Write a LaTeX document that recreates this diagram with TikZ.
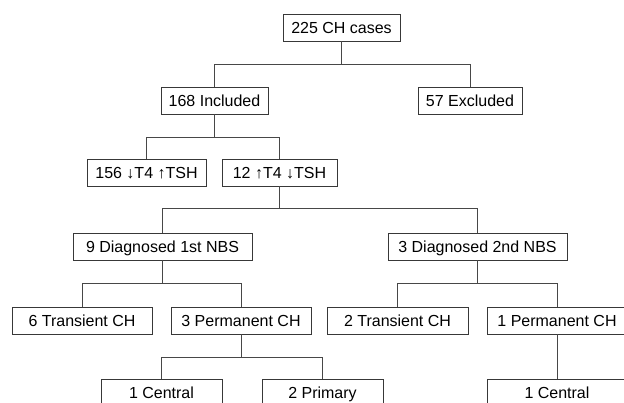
\documentclass[tikz,border=0pt]{standalone}
\usepackage{fontspec}
\setmainfont{Liberation Sans}
\begin{document}
\begin{tikzpicture}[x=1pt,y=-1pt,
  box/.style={draw=black!78,line width=0.9pt,fill=white,inner sep=0pt,minimum height=27pt,text height=11.4pt,text depth=0pt,font=\fontsize{16}{18}\selectfont},
  conn/.style={draw=black!72,line width=0.9pt}]
\useasboundingbox (0,0) rectangle (624,403);
\begin{scope}
\clip (0,0) rectangle (624,403);
% nodes
\node[box,minimum width=117pt] (a) at (341.5,27.5) {225 CH cases};
\node[box,minimum width=107pt] (inc) at (214.5,100.5) {168 Included};
\node[box,minimum width=104pt] (exc) at (470,100.5) {57 Excluded};
\node[box,minimum width=119pt] (low) at (146.5,173) {156 ↓T4 ↑TSH};
\node[box,minimum width=115pt] (high) at (279.5,172.5) {12 ↑T4 ↓TSH};
\node[box,minimum width=179pt] (d1) at (162.5,246.5) {9 Diagnosed 1st NBS};
\node[box,minimum width=179pt] (d2) at (477.5,246.5) {3 Diagnosed 2nd NBS};
\node[box,minimum width=140pt] (t1) at (82,320.5) {6 Transient CH};
\node[box,minimum width=140pt] (p1) at (241,320.5) {3 Permanent CH};
\node[box,minimum width=141pt] (t2) at (397.5,320.5) {2 Transient CH};
\node[box,minimum width=140pt] (p2) at (557,320.5) {1 Permanent CH};
\node[box,minimum width=121pt] (c1) at (161.5,392.5) {1 Central};
\node[box,minimum width=121pt] (pr) at (322.5,392.5) {2 Primary};
\node[box,minimum width=140pt] (c2) at (557,392.5) {1 Central};
% connectors
\draw[conn] (a.south) -- ++(0,23) coordinate (b1);
\draw[conn] (inc.north) |- (b1) -| (exc.north);
\draw[conn] (inc.south) -- ++(0,23) coordinate (b2);
\draw[conn] (low.north) |- (b2) -| (high.north);
\draw[conn] (high.south) -- ++(0,22.5) coordinate (b3);
\draw[conn] (d1.north) |- (b3) -| (d2.north);
\draw[conn] (d1.south) -- ++(0,23) coordinate (b4);
\draw[conn] (t1.north) |- (b4) -| (p1.north);
\draw[conn] (d2.south) -- ++(0,23.5) coordinate (b5);
\draw[conn] (t2.north) |- (b5) -| (p2.north);
\draw[conn] (p1.south) -- ++(0,23) coordinate (b6);
\draw[conn] (c1.north) |- (b6) -| (pr.north);
\draw[conn] (p2.south) -- (c2.north);
\end{scope}
\end{tikzpicture}
\end{document}
